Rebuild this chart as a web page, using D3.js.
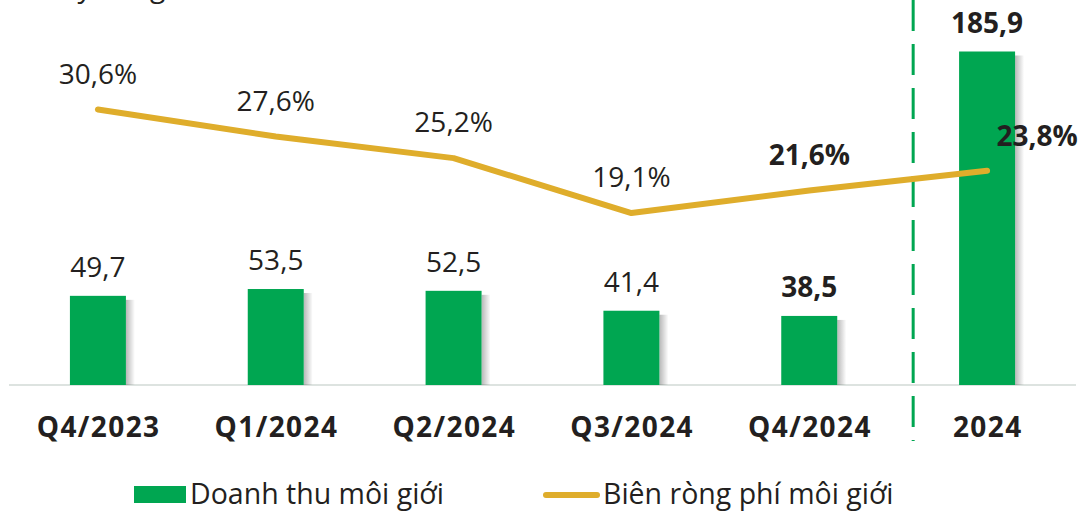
<!DOCTYPE html>
<html><head><meta charset="utf-8">
<script src="https://cdn.jsdelivr.net/npm/d3@7"></script>
<style>body{margin:0;background:#fff;} svg{display:block;}</style>
</head><body>
<svg id="c" width="1086" height="514"></svg>
<script>
const categories = ["Q4/2023","Q1/2024","Q2/2024","Q3/2024","Q4/2024","2024"];
const revenue = [49.7, 53.5, 52.5, 41.4, 38.5, 185.9];
const margin = [30.6, 27.6, 25.2, 19.1, 21.6, 23.8];
const emphasized = [false, false, false, false, true, true];
const unitLabel = "Tỷ đồng";
const legendLabels = ["Doanh thu môi giới", "Biên ròng phí môi giới"];

const GREEN = "#00A651", GOLD = "#DFAD2B", TEXT = "#231F20";
const FONT = "'Open Sans', 'Noto Sans', sans-serif";
const fmt = v => String(v).replace(".", ",");
const fmtPct = v => fmt(v) + "%";

const svg = d3.select("#c");
const baseY = 385;
const x = d3.scaleBand().domain(categories).range([9, 1076]).padding(0);
const cx = d => x(d) + x.bandwidth() / 2;
const y = d3.scaleLinear().domain([0, 185.9]).range([baseY, 51.5]);
const yp = d3.scaleLinear().domain([0, 30.6]).range([baseY, 109.5]);
const barW = 56;

const defs = svg.append("defs");
const g = defs.append("linearGradient").attr("id","sh").attr("x1","0").attr("x2","1");
g.append("stop").attr("offset","0").attr("stop-color","#000").attr("stop-opacity",0.28);
g.append("stop").attr("offset","1").attr("stop-color","#000").attr("stop-opacity",0);

// unit label (cut off at top edge, as in the reference)
svg.append("text").attr("x", 62).attr("y", -3).attr("font-family", FONT)
  .attr("font-size", 28).attr("fill", TEXT).text(unitLabel);

// axis baseline
svg.append("line").attr("x1", 9).attr("x2", 1076).attr("y1", baseY).attr("y2", baseY)
  .attr("stroke", "#DDE3E0").attr("stroke-width", 2);

// bar shadows
svg.selectAll(".sh").data(categories).join("rect")
  .attr("x", d => cx(d) + barW/2).attr("width", 9)
  .attr("y", (d,i) => y(revenue[i]) + 4).attr("height", (d,i) => baseY - y(revenue[i]) - 4)
  .attr("fill", "url(#sh)");

// bars
svg.selectAll(".bar").data(categories).join("rect")
  .attr("x", d => cx(d) - barW/2).attr("width", barW)
  .attr("y", (d,i) => y(revenue[i])).attr("height", (d,i) => baseY - y(revenue[i]))
  .attr("fill", GREEN);

// dashed separator
const sepX = (cx(categories[4]) + cx(categories[5])) / 2 + 15;
svg.append("line").attr("x1", sepX).attr("x2", sepX).attr("y1", 0).attr("y2", 441)
  .attr("stroke", GREEN).attr("stroke-width", 3).attr("stroke-dasharray", "31,13");

// bar labels
svg.selectAll(".bl").data(categories).join("text")
  .attr("x", d => cx(d)).attr("y", (d,i) => y(revenue[i]) - 19)
  .attr("text-anchor", "middle").attr("font-family", FONT).attr("font-size", 28)
  .attr("font-weight", (d,i) => emphasized[i] ? 700 : 400).attr("fill", TEXT)
  .text((d,i) => fmt(revenue[i]));

// line
const line = d3.line().x((d,i) => cx(categories[i])).y(d => yp(d));
svg.append("path").datum(margin).attr("d", line).attr("fill", "none")
  .attr("stroke", GOLD).attr("stroke-width", 6).attr("stroke-linecap", "round").attr("stroke-linejoin", "round");

// line labels
svg.selectAll(".ll").data(categories).join("text")
  .attr("x", (d,i) => i === 5 ? cx(d) + 50 : cx(d))
  .attr("y", (d,i) => i === 5 ? yp(margin[i]) - 25 : yp(margin[i]) - 26)
  .attr("text-anchor", "middle").attr("font-family", FONT).attr("font-size", 28)
  .attr("font-weight", (d,i) => emphasized[i] ? 700 : 400).attr("fill", TEXT)
  .text((d,i) => fmtPct(margin[i]));

// category labels
svg.selectAll(".cl").data(categories).join("text")
  .attr("x", d => cx(d) + 0.7).attr("y", 437)
  .attr("text-anchor", "middle").attr("font-family", FONT).attr("font-size", 28)
  .attr("letter-spacing", 1.4)
  .attr("font-weight", 700).attr("fill", TEXT).text(d => d);

// legend
svg.append("rect").attr("x", 134).attr("y", 486).attr("width", 52).attr("height", 17).attr("fill", GREEN);
svg.append("text").attr("x", 190).attr("y", 504).attr("font-family", FONT).attr("font-size", 28.5)
  .attr("fill", TEXT).text(legendLabels[0]);
svg.append("line").attr("x1", 546).attr("x2", 597).attr("y1", 495).attr("y2", 495)
  .attr("stroke", GOLD).attr("stroke-width", 6).attr("stroke-linecap", "round");
svg.append("text").attr("x", 603).attr("y", 504).attr("font-family", FONT).attr("font-size", 28.5)
  .attr("fill", TEXT).text(legendLabels[1]);
</script>
</body></html>
